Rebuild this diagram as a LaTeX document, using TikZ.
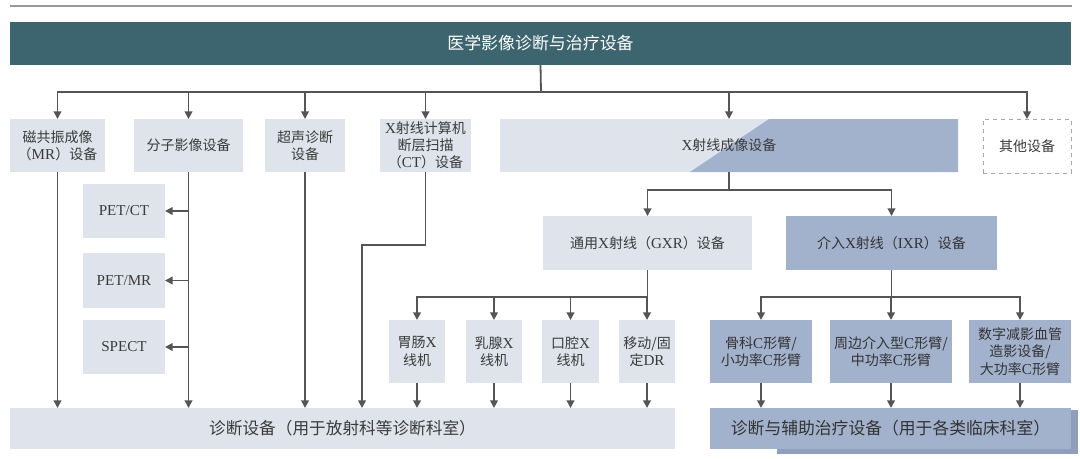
\documentclass[tikz,border=0pt]{standalone}
\usepackage{fontspec}
\setmainfont{Noto Sans CJK SC}
\newfontfamily\lat{Liberation Serif}[Scale=1.08]
\usetikzlibrary{arrows.meta}
\definecolor{hdr}{HTML}{3D6570}
\definecolor{lightbox}{HTML}{DFE4EC}
\definecolor{midbox}{HTML}{A3B2CC}
\definecolor{shadowc}{HTML}{8E9EBC}
\definecolor{linec}{HTML}{555555}
\definecolor{txt}{HTML}{3A3A3A}
\tikzset{
  box/.style args={#1/#2/#3/#4}{inner sep=0pt, outer sep=0pt,
    at={({(#1+#3)/2},{(#2+#4)/2})}, anchor=center,
    minimum width={(#3-#1)*0.75pt}, minimum height={(#4-#2)*0.75pt},
    fill=lightbox, text=txt, align=center,
    font=\fontsize{10.5pt}{12.9pt}\selectfont},
  darkbox/.style={box={#1}, fill=midbox, text=black!80},
  con/.style={linec, line width=1.35pt},
  arr/.style={con, -{Triangle[width=5.8pt,length=5.8pt]}},
}
\begin{document}
\begin{tikzpicture}[x=0.75pt,y=-0.75pt]
\useasboundingbox (0,0) rectangle (1080,458);
\fill[white] (0,0) rectangle (1080,458);
\draw[gray!80, line width=0.8pt] (10,6) -- (1072,6);

% header
\node[box={10/22/1071/65}, fill=hdr, text=white, font=\fontsize{12.7pt}{15pt}\selectfont] (hdr) {医学影像诊断与治疗设备};

% row 1
\node[box={10/119/105/172}] (mr) {磁共振成像\\（{\lat MR}）设备};
\node[box={134/119/243/172}] (fenzi) {分子影像设备};
\node[box={265/119/345/172}] (chao) {超声诊断\\设备};
\node[box={380/119/471/172}] (ct) {{\lat X}射线计算机\\断层扫描\\（{\lat CT}）设备};
\node[box={500/119/958/172}] (xray) {};
\fill[midbox] (690,172) -- (769,119) -- (xray.north east) -- (xray.south east) -- cycle;
\node[font=\fontsize{10.5pt}{12.9pt}\selectfont, text=txt, inner sep=0pt] (xraytxt) at (xray.center) {{\lat X}射线成像设备};
\node[box={983/119/1071/173}, fill=white, draw=gray!70, dashed, line width=0.7pt] (qita) {其他设备};

% molecular sub-boxes
\node[box={83/184/165/238}] (petct) {\lat PET/CT};
\node[box={83/253/165/308}] (petmr) {\lat PET/MR};
\node[box={83/320/165/374}] (spect) {\lat SPECT};

% GXR / IXR
\node[box={543/216/752/270}] (gxr) {通用{\lat X}射线（{\lat GXR}）设备};
\node[darkbox={786/216/997/270}] (ixr) {介入{\lat X}射线（{\lat IXR}）设备};

% row 3
\node[box={389/320/445/383}] (wei) {胃肠{\lat X}\\线机};
\node[box={466/320/522/383}] (ru) {乳腺{\lat X}\\线机};
\node[box={542/320/599/383}] (kou) {口腔{\lat X}\\线机};
\node[box={619/320/675/383}] (yi) {移动/固\\定{\lat DR}};
\node[darkbox={710/320/812/383}] (gu) {骨科{\lat C}形臂/\\小功率{\lat C}形臂};
\node[darkbox={830/320/952/383}] (zhou) {周边介入型{\lat C}形臂/\\中功率{\lat C}形臂};
\node[darkbox={969/320/1071/383}] (shu) {数字减影血管\\造影设备/\\大功率{\lat C}形臂};

% bottom
\node[box={10/408/675/449}, font=\fontsize{12.5pt}{15pt}\selectfont] (diag) {诊断设备（用于放射科等诊断科室）};
\fill[shadowc] (777,410) rectangle (1078,454);
\node[darkbox={710/408/1071/449}, font=\fontsize{12.6pt}{15pt}\selectfont] (diagtx) {诊断与辅助治疗设备（用于各类临床科室）};

% connectors from header
\coordinate (bus) at (541,92);
\draw[con] (hdr.south) -- (bus);
\foreach \n in {mr,fenzi,chao,ct,xray,qita}
  \draw[arr] (bus) -| (\n.north);

% row1 to bottom
\draw[arr] (mr.south) -- (mr.south |- diag.north);
\draw[arr] (fenzi.south) -- (fenzi.south |- diag.north);
\draw[arr] (chao.south) -- (chao.south |- diag.north);
\foreach \n in {petct,petmr,spect}
  \draw[arr] (fenzi.south |- \n.east) -- (\n.east);
\coordinate (ctbend) at (362,245);
\draw[arr] (ct.south) |- (ctbend) -- (ctbend |- diag.north);

% xray branch
\coordinate (xb) at (729,190);
\draw[con] (xray.south) -- (xb);
\draw[arr] (xb) -| (gxr.north);
\draw[arr] (xb) -| (ixr.north);

\coordinate (gb) at (647.5,297);
\draw[con] (gxr.south) -- (gb);
\foreach \n in {wei,ru,kou,yi} {
  \draw[arr] (gb) -| (\n.north);
  \draw[arr] (\n.south) -- (\n.south |- diag.north);
}
\coordinate (ib) at (891.5,297);
\draw[con] (ixr.south) -- (ib);
\foreach \n in {gu,zhou,shu} {
  \draw[arr] (ib) -| (\n.north);
  \draw[arr] (\n.south) -- (\n.south |- diagtx.north);
}
\end{tikzpicture}
\end{document}
